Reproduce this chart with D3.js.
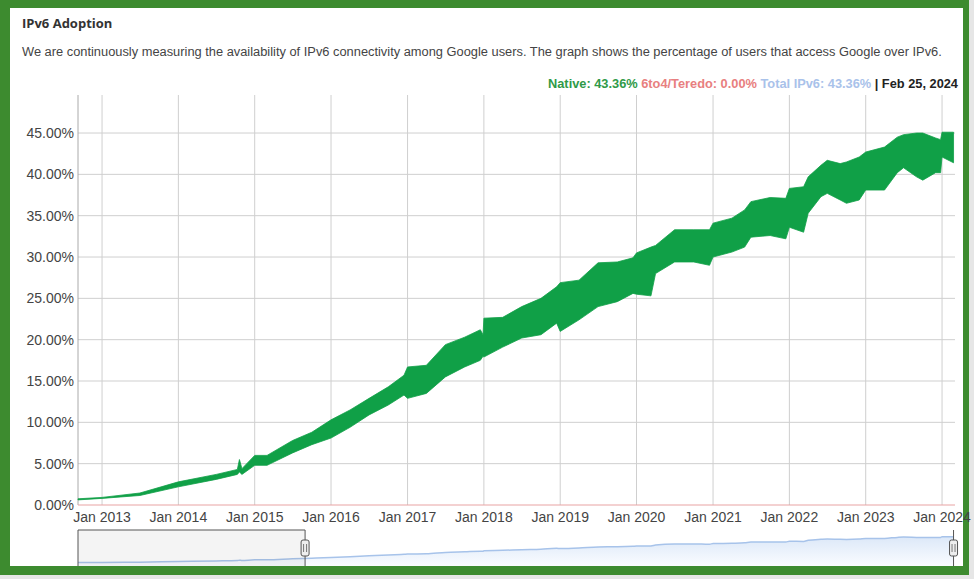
<!DOCTYPE html>
<html>
<head>
<meta charset="utf-8">
<script src="https://cdn.jsdelivr.net/npm/d3@7"></script>
<style>
  html, body { margin: 0; padding: 0; background: #e6e6e6; }
  svg { display: block; }
</style>
</head>
<body>
<svg id="chart" width="974" height="579"></svg>
<script>
// daily native IPv6 share swings between weekday and weekend values,
// so the band is kept as an upper and a lower envelope
var dates = ["2012-09-08","2013-01-01","2013-07-01","2014-01-01","2014-07-01","2014-10-10","2014-10-20","2014-11-01",
  "2015-01-01","2015-03-01","2015-07-01","2015-10-01","2016-01-01","2016-04-01","2016-07-01","2016-10-01","2016-12-15",
  "2017-01-01","2017-04-01","2017-07-01","2017-10-01","2017-12-15","2017-12-28","2018-01-01","2018-04-01","2018-07-01",
  "2018-10-01","2018-12-15","2019-01-01","2019-04-01","2019-07-01","2019-10-01","2019-12-15","2020-01-01","2020-03-10",
  "2020-04-01","2020-07-01","2020-10-01","2020-12-15","2021-01-01","2021-04-01","2021-06-01","2021-07-01","2021-10-01",
  "2021-12-15","2022-01-01","2022-03-10","2022-04-01","2022-06-01","2022-07-01","2022-09-01","2022-10-01","2022-12-01",
  "2023-01-01","2023-04-01","2023-06-01","2023-07-01","2023-09-01","2023-10-01","2023-12-01","2023-12-25","2024-01-01",
  "2024-02-25"];
var nativeHigh = [0.75,0.92,1.45,2.8,3.7,4.3,5.5,4.4,
  6.0,6.0,7.8,8.8,10.3,11.5,12.9,14.3,15.7,
  16.7,16.9,19.4,20.3,21.2,20.6,22.6,22.7,24.0,
  25.0,26.4,26.9,27.2,29.3,29.4,29.9,30.5,31.2,
  31.4,33.3,33.3,33.3,34.1,34.7,35.7,36.7,37.2,
  37.1,38.3,38.5,39.7,41.1,41.7,41.3,41.5,42.1,
  42.7,43.3,44.5,44.8,45.0,45.0,44.4,44.2,45.1,
  45.1];
var nativeLow = [0.62,0.80,1.15,2.2,3.1,3.7,4.0,3.7,
  4.8,4.8,6.3,7.3,8.1,9.4,10.9,12.1,13.3,
  12.9,13.5,15.5,16.7,17.5,18.0,17.9,19.1,20.2,
  20.6,22.0,21.0,22.4,24.0,24.6,25.6,25.5,25.3,
  28.0,29.4,29.4,29.0,30.0,30.6,31.2,32.4,32.6,
  32.2,33.6,33.0,35.3,37.3,37.7,36.9,36.5,36.9,
  38.1,38.1,40.2,40.8,39.7,39.3,40.2,40.2,42.1,
  41.4];
var teredo = [0,0]; // 6to4/Teredo stays at 0.00% over the whole range
var yTicks = [0,5,10,15,20,25,30,35,40,45];
var xTickYears = [2013,2014,2015,2016,2017,2018,2019,2020,2021,2022,2023,2024];
var legend = [
  {text:"Native: 43.36% ", color:"#2f9a48"},
  {text:"6to4/Teredo: 0.00% ", color:"#e88080"},
  {text:"Total IPv6: 43.36% ", color:"#a9c2ea"},
  {text:"| Feb 25, 2024", color:"#222"}
];
var navRange = ["2012-09-08","2015-08-30"];

var parse = d3.timeParse("%Y-%m-%d");
var rows = dates.map((d,i) => ({date: parse(d), hi: nativeHigh[i], lo: nativeLow[i]}));

var svg = d3.select("#chart");

// green frame
svg.append("rect").attr("x",0).attr("y",0).attr("width",969).attr("height",575).attr("fill","#3d8b2f");
svg.append("rect").attr("x",10).attr("y",8).attr("width",953).attr("height",558).attr("fill","#fff");

svg.append("text").attr("x",22).attr("y",28)
  .style("font","bold 13px 'Open Sans'").attr("fill","#333")
  .text("IPv6 Adoption");
svg.append("text").attr("x",22).attr("y",56)
  .style("font","12.85px 'Liberation Sans', Arial").attr("fill","#444")
  .text("We are continuously measuring the availability of IPv6 connectivity among Google users. The graph shows the percentage of users that access Google over IPv6.");

var leg = svg.append("text").attr("x",958).attr("y",88).attr("text-anchor","end")
  .style("font","bold 12.8px 'Liberation Sans', Arial");
leg.selectAll("tspan").data(legend).enter().append("tspan")
  .attr("fill",d => d.color).style("white-space","pre").text(d => d.text);

var plotL = 78, plotR = 955, plotT = 95, plotB = 505;
var x = d3.scaleTime().domain([parse("2012-09-08"), parse("2024-03-03")]).range([plotL, plotR]);
var y = d3.scaleLinear().domain([0, 49.6]).range([plotB, plotT]);

// grid
svg.append("g").selectAll("line").data(yTicks.slice(1)).enter().append("line")
  .attr("x1",plotL).attr("x2",plotR).attr("y1",d => y(d)).attr("y2",d => y(d))
  .attr("stroke","#cfcfcf");
svg.append("g").selectAll("line").data(xTickYears).enter().append("line")
  .attr("x1",d => x(new Date(d,0,1))).attr("x2",d => x(new Date(d,0,1)))
  .attr("y1",plotT).attr("y2",plotB).attr("stroke","#cfcfcf");
svg.append("line").attr("x1",plotL).attr("x2",plotL).attr("y1",plotT).attr("y2",plotB).attr("stroke","#aaa");

// y labels
svg.append("g").selectAll("text").data(yTicks).enter().append("text")
  .attr("x",plotL-4).attr("y",d => y(d)+5).attr("text-anchor","end")
  .style("font","14px 'Liberation Sans', Arial").attr("fill","#444")
  .text(d => d3.format(".2f")(d) + "%");
// x labels
svg.append("g").selectAll("text").data(xTickYears).enter().append("text")
  .attr("x",d => x(new Date(d,0,1))).attr("y",522).attr("text-anchor","middle")
  .style("font","14px 'Liberation Sans', Arial").attr("fill","#444")
  .text(d => "Jan " + d);

// native band
var band = d3.area().x(d => x(d.date)).y0(d => y(d.lo)).y1(d => y(d.hi));
svg.append("path").datum(rows).attr("d",band)
  .attr("fill","#10a047").attr("stroke","#10a047").attr("stroke-width",0.8);

// 6to4 line at zero
svg.append("line").attr("x1",x.range()[0]).attr("x2",x.range()[1])
  .attr("y1",y(teredo[0])).attr("y2",y(teredo[1])).attr("stroke","#e8a3a3");

// range selector
var navTop = 530, navBottom = 566;
var ny = d3.scaleLinear().domain([0, 49.6]).range([563, 533]);
var defs = svg.append("defs");
var grad = defs.append("linearGradient").attr("id","navg").attr("x1",0).attr("x2",0).attr("y1",0).attr("y2",1);
grad.append("stop").attr("offset","0%").attr("stop-color","#dce8f8");
grad.append("stop").attr("offset","100%").attr("stop-color","#fafcff");
var navArea = d3.area().x(d => x(d.date)).y0(navBottom).y1(d => ny((d.hi+d.lo)/2)).curve(d3.curveMonotoneX);
var navLine = d3.line().x(d => x(d.date)).y(d => ny((d.hi+d.lo)/2)).curve(d3.curveMonotoneX);
svg.append("path").datum(rows).attr("d",navArea).attr("fill","url(#navg)");
svg.append("path").datum(rows).attr("d",navLine).attr("fill","none").attr("stroke","#a7c3ea").attr("stroke-width",1.5);

var s0 = x(parse(navRange[0])), s1 = x(parse(navRange[1]));
svg.append("rect").attr("x",s0).attr("y",navTop).attr("width",s1-s0).attr("height",navBottom-navTop)
  .attr("fill","#777").attr("fill-opacity",0.08);
svg.append("path").attr("d",`M${s0},${navBottom}V${navTop}H${s1}V${navBottom}`)
  .attr("fill","none").attr("stroke","#555");
var e1 = x(parse(dates[dates.length-1]));
svg.append("line").attr("x1",e1).attr("x2",e1).attr("y1",navTop).attr("y2",navBottom).attr("stroke","#555");

[s1, e1].forEach(function(hx){
  svg.append("rect").attr("x",hx-4).attr("y",540).attr("width",8).attr("height",16)
    .attr("rx",2).attr("fill","#eee").attr("stroke","#555");
  [-1.5, 1.5].forEach(function(o){
    svg.append("line").attr("x1",hx+o).attr("x2",hx+o).attr("y1",544).attr("y2",552).attr("stroke","#777");
  });
});
</script>
</body>
</html>
